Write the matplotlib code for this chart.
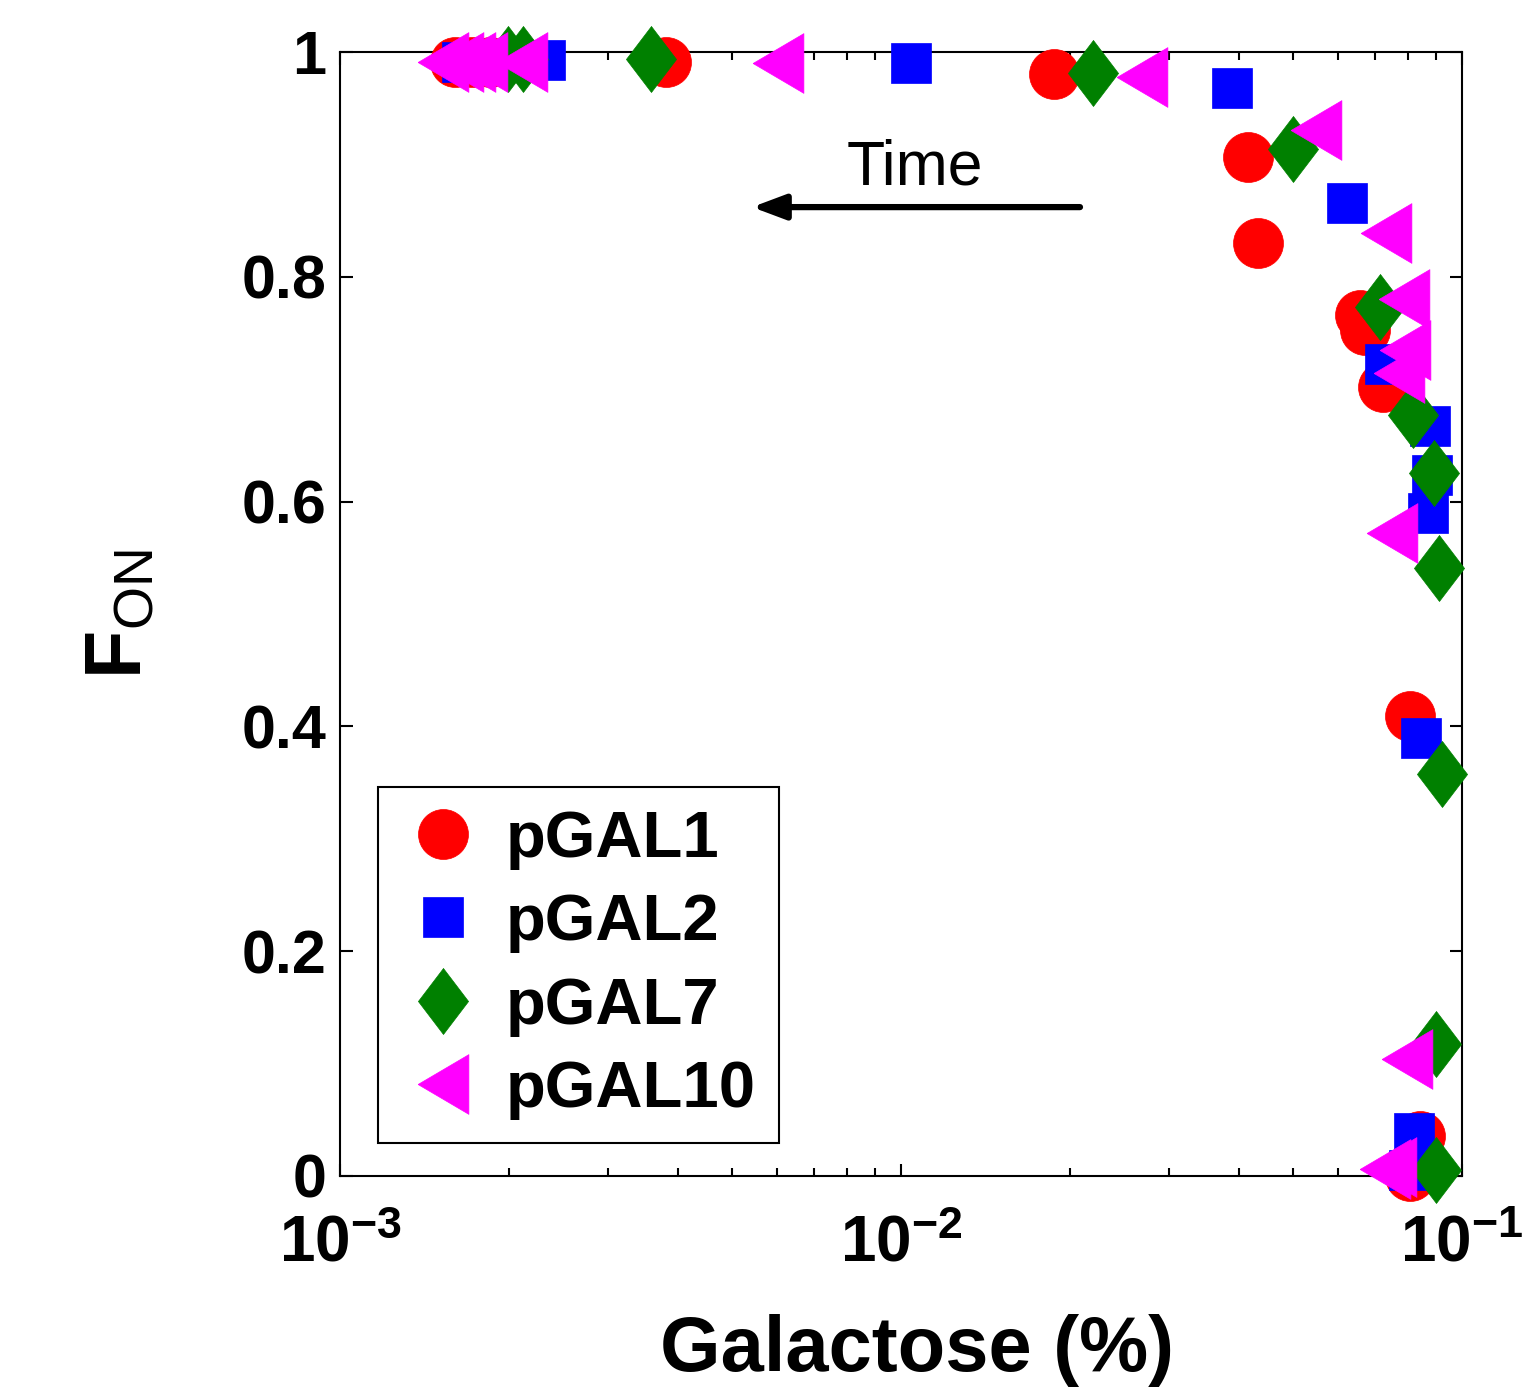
import matplotlib
matplotlib.use("Agg")
import matplotlib.pyplot as plt

plt.rcParams['font.family'] = ['Liberation Sans', 'DejaVu Sans']
plt.rcParams['mathtext.fontset'] = 'custom'
plt.rcParams['mathtext.rm'] = 'Liberation Sans'
plt.rcParams['mathtext.bf'] = 'Liberation Sans:bold'
plt.rcParams['mathtext.it'] = 'Liberation Sans:italic'

# data (galactose %, fraction ON)
gal1_x = [0.00160, 0.00172, 0.00185, 0.00381, 0.01874, 0.0415, 0.0433, 0.0658, 0.0672, 0.0723, 0.0807, 0.0842, 0.0807]
gal1_y = [0.991, 0.991, 0.991, 0.991, 0.980, 0.907, 0.830, 0.766, 0.753, 0.702, 0.409, 0.036, 0.000]

gal2_x = [0.00165, 0.00180, 0.00232, 0.01042, 0.0389, 0.0624, 0.0729, 0.0877, 0.0885, 0.0870, 0.0845, 0.0821, 0.0805]
gal2_y = [0.991, 0.991, 0.993, 0.990, 0.968, 0.866, 0.722, 0.667, 0.624, 0.590, 0.390, 0.038, 0.005]

gal7_x = [0.00199, 0.00212, 0.00359, 0.0220, 0.0500, 0.0714, 0.0818, 0.0890, 0.0910, 0.0921, 0.0897, 0.0899]
gal7_y = [0.994, 0.994, 0.994, 0.981, 0.914, 0.773, 0.677, 0.625, 0.541, 0.358, 0.117, 0.005]

gal10_x = [0.001526, 0.001622, 0.001705, 0.00179, 0.00211, 0.00604, 0.0269, 0.0549, 0.0732, 0.0788, 0.0790, 0.0772,
           0.0750, 0.0798, 0.0747, 0.0729]
gal10_y = [0.991, 0.991, 0.991, 0.991, 0.991, 0.990, 0.978, 0.931, 0.839, 0.780, 0.735, 0.714,
           0.572, 0.104, 0.008, 0.006]

labels = ['pGAL1', 'pGAL2', 'pGAL7', 'pGAL10']
yticks = [0, 0.2, 0.4, 0.6, 0.8, 1]
ytick_labels = ['0', '0.2', '0.4', '0.6', '0.8', '1']
xticks = [1e-3, 1e-2, 1e-1]
xtick_labels = [r'$\mathbf{10^{-3}}$', r'$\mathbf{10^{-2}}$', r'$\mathbf{10^{-1}}$']

# matlab-like marker shapes
diamond = [(0, 1), (0.76, 0), (0, -1), (-0.76, 0), (0, 1)]
tri_left = [(-0.85, 0), (0.85, 1), (0.85, -1), (-0.85, 0)]

fig = plt.figure(figsize=(15.38, 13.94), dpi=100)
ax = fig.add_axes([0.2211, 0.1564, 0.7295, 0.8063])

ax.plot(gal1_x, gal1_y, linestyle='none', marker='o', markersize=36, color='#ff0000', mew=0.5, label=labels[0])
ax.plot(gal2_x, gal2_y, linestyle='none', marker='s', markersize=29, color='#0000ff', mew=0.5, label=labels[1])
ax.plot(gal7_x, gal7_y, linestyle='none', marker=diamond, markersize=47.5, color='#008000', mew=0.5, label=labels[2])
ax.plot(gal10_x, gal10_y, linestyle='none', marker=tri_left, markersize=43, color='#ff00ff', mew=0.5, label=labels[3])

ax.set_xscale('log')
ax.set_xlim(1e-3, 1e-1)
ax.set_ylim(0, 1)
ax.set_xticks(xticks)
ax.set_xticklabels(xtick_labels, fontsize=46)
ax.set_yticks(yticks)
ax.set_yticklabels(ytick_labels, fontsize=44, fontweight='bold')
ax.tick_params(which='both', direction='in', top=True, right=True, width=1.5)
ax.tick_params(which='major', length=9)
ax.tick_params(which='minor', length=6)
ax.tick_params(axis='x', pad=28)
ax.tick_params(axis='y', pad=10)
for s in ax.spines.values():
    s.set_linewidth(1.5)
    s.set_zorder(0)
for ln in ax.lines:
    ln.set_clip_on(False)

ax.set_xlabel('Galactose (%)', fontsize=56, fontweight='bold', labelpad=28)
ax.xaxis.label.set_x(0.514)
ax.set_ylabel(r'$\mathbf{F}_{\mathrm{ON}}$', fontsize=57, labelpad=60)

# time arrow
ax.annotate('', xy=(0.3672, 0.862), xytext=(0.6595, 0.862), xycoords='axes fraction',
            arrowprops=dict(arrowstyle='-|>,head_length=2.0,head_width=0.75', color='black', lw=4.5,
                            shrinkA=0, shrinkB=0))
ax.text(0.5125, 0.8817, 'Time', transform=ax.transAxes, fontsize=45, ha='center', va='baseline')

leg = ax.legend(loc='lower left', bbox_to_anchor=(0.0339, 0.0294), borderaxespad=0, fancybox=False,
                edgecolor='black', prop={'weight': 'bold', 'size': 47}, handletextpad=0.31,
                labelspacing=0.36, borderpad=0.35, handlelength=1.3, framealpha=1)
leg.get_frame().set_linewidth(1.5)

plt.savefig('out.png', dpi=100)
